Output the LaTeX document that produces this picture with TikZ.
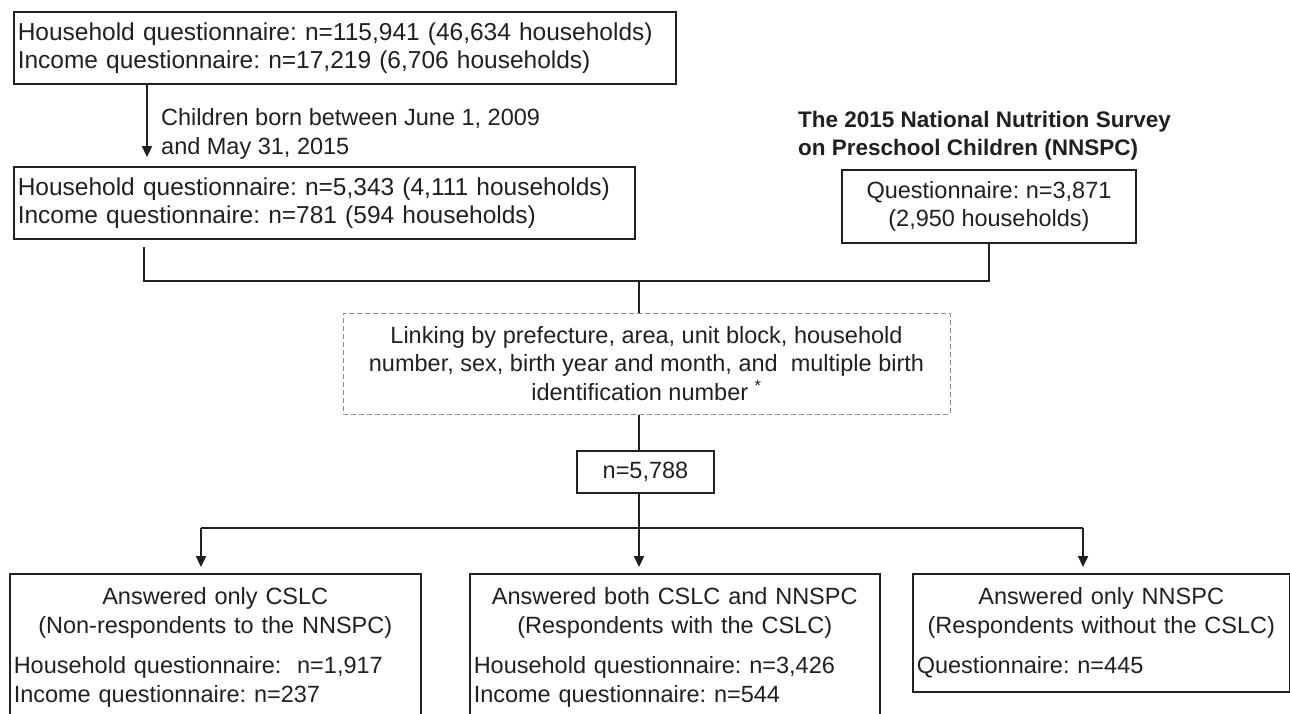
\documentclass[tikz,border=0pt]{standalone}
\usepackage{fontspec}
\setmainfont{Liberation Sans}
\usetikzlibrary{arrows.meta}
\definecolor{inkc}{HTML}{231F20}
\definecolor{dashc}{HTML}{8C8C8C}
\newcommand\figfont{\fontsize{23.5}{28.5}\selectfont\frenchspacing}
\newcommand\topfont{\fontsize{24.5}{28}\selectfont\frenchspacing}
\tikzset{
  boxa/.style={draw=inkc, line width=1.5pt, inner xsep=4pt, inner ysep=0pt, align=left},
  outbox/.style={boxa, anchor=north west, inner ysep=14pt},
  linkbox/.style={draw=dashc, line width=1pt, dash pattern=on 5pt off 3pt, align=center},
  wire/.style={draw=inkc, line width=2.3pt},
  arr/.style={wire, -{Triangle[length=11pt,width=10pt]}},
}
\begin{document}
\begin{tikzpicture}[x=1pt, y=-1pt, font=\figfont, text=inkc]
\useasboundingbox (0,0) rectangle (1290,713);
% CSLC side
\node[boxa, anchor=north west, text width=654pt, minimum height=72pt, font=\topfont] (hhall) at (13,11)
  {Household questionnaire: n=115,941 (46,634 households)\\Income questionnaire: n=17,219 (6,706 households)};
\node[boxa, anchor=north west, text width=613pt, minimum height=72pt, font=\topfont] (hhkids) at (13,166)
  {Household questionnaire: n=5,343 (4,111 households)\\Income questionnaire: n=781 (594 households)};
\node[anchor=west, align=left, inner sep=0pt] (period) at (161,134)
  {Children born between June 1, 2009\\and May 31, 2015};
% NNSPC side
\node[anchor=west, align=left, inner sep=0pt, font=\fontsize{22.5}{28}\selectfont\bfseries] (nnsurvey) at (798,136)
  {The 2015 National Nutrition Survey\\on Preschool Children (NNSPC)};
\node[boxa, align=center, minimum width=294pt, minimum height=73pt] (nnspc) at (989,206.5)
  {Questionnaire: n=3,871\\(2,950 households)};
% linkage
\node[linkbox, minimum width=607pt, minimum height=101pt] (linking) at (646.5,363.5)
  {Linking by prefecture, area, unit block, household\\number, sex, birth year and month, and\ \ multiple birth\\identification number \textsuperscript{*}};
\node[boxa, align=center, minimum width=137pt, minimum height=42pt] (total) at (645.5,472) {n=5,788};
% groups
\node[outbox, text width=403pt] (onlycslc) at (9,573)
  {{\centering Answered only CSLC\\(Non-respondents to the NNSPC)\par}\vspace{12pt}Household questionnaire:\ \ n=1,917\\Income questionnaire: n=237\par\vspace{40pt}};
\node[outbox, text width=402pt] (bothsurv) at (469,573)
  {{\centering Answered both CSLC and NNSPC\\(Respondents with the CSLC)\par}\vspace{12pt}Household questionnaire: n=3,426\\Income questionnaire: n=544\par\vspace{40pt}};
\node[outbox, text width=369pt] (onlynnspc) at (912,573)
  {{\centering Answered only NNSPC\\(Respondents without the CSLC)\par}\vspace{12pt}Questionnaire: n=445};
% connectors
\coordinate (ageline) at (147,0);
\coordinate (kidsdrop) at (144,247);
\coordinate (topjoin) at (639,281);
\coordinate (lowjoin) at (639,528);
\coordinate (lowleft) at (201,528);
\coordinate (lowright) at (1083,528);
\draw[arr] (hhall.south -| ageline) -- ([yshift=9pt]hhkids.north -| ageline);
\draw[wire] (kidsdrop) |- (topjoin) -| (nnspc.south);
\draw[wire] (topjoin) -- (topjoin |- linking.north);
\draw[wire] (linking.south -| topjoin) -- (total.north -| topjoin);
\draw[wire] (total.south -| lowjoin) -- (lowjoin);
\draw[wire] (lowleft) -- (lowright);
\foreach \from/\to in {lowleft/onlycslc, lowjoin/bothsurv, lowright/onlynnspc}
  \draw[arr] (\from) -- ([yshift=6pt]\to.north -| \from);
\end{tikzpicture}
\end{document}
